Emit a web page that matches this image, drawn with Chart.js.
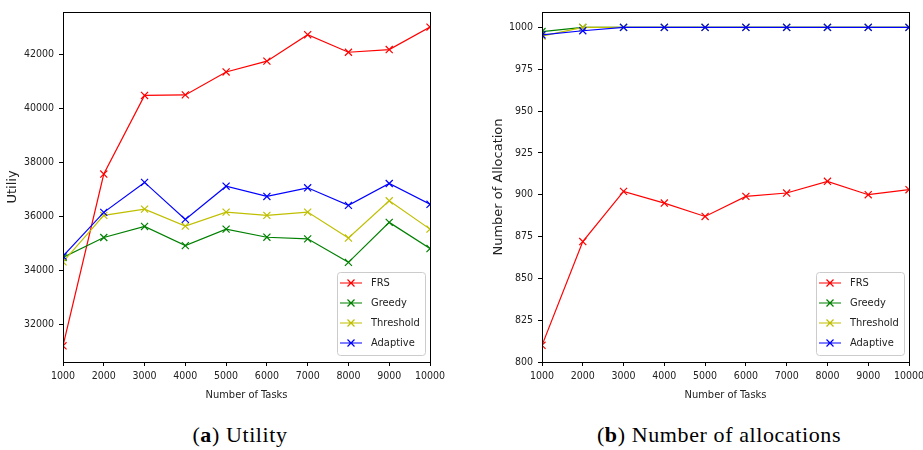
<!DOCTYPE html>
<html>
<head>
<meta charset="utf-8">
<script src="https://cdn.jsdelivr.net/npm/chart.js@4"></script>
<style>
  html, body { margin: 0; padding: 0; background: #fff; overflow: hidden; width: 923px; height: 450px; }
  .panel { position: absolute; top: 0; }
  .caption { position: absolute; top: 422px; font-family: "Liberation Serif", serif; font-size: 22px; letter-spacing: 0.6px; color: #000; white-space: nowrap; transform: translateX(-50%); }
</style>
</head>
<body>
<div class="panel" style="left:0"><canvas id="utility" width="460" height="410"></canvas></div>
<div class="panel" style="left:460px"><canvas id="alloc" width="490" height="410"></canvas></div>
<div class="caption" style="left:240px">(<b>a</b>) Utility</div>
<div class="caption" style="left:719px">(<b>b</b>) Number of allocations</div>
<script>
// values
const tasks = [1000, 2000, 3000, 4000, 5000, 6000, 7000, 8000, 9000, 10000];
const seriesNames = ["FRS", "Greedy", "Threshold", "Adaptive"];
const seriesColors = ["#ff0000", "#008000", "#bfbf00", "#0000ff"];

const utilFRS       = [31200, 37560, 40470, 40490, 41340, 41740, 42720, 42070, 42170, 43000];
const utilGreedy    = [34470, 35210, 35620, 34910, 35520, 35220, 35160, 34290, 35770, 34800];
const utilThreshold = [34310, 36030, 36260, 35630, 36150, 36030, 36150, 35190, 36570, 35520];
const utilAdaptive  = [34520, 36140, 37250, 35880, 37110, 36730, 37050, 36400, 37210, 36440];

const allocFRS       = [810, 872, 902, 895, 887, 899, 901, 908, 900, 903];
const allocGreedy    = [997.5, 1000, 1000, 1000, 1000, 1000, 1000, 1000, 1000, 1000];
const allocThreshold = [994.8, 1000, 1000, 1000, 1000, 1000, 1000, 1000, 1000, 1000];
const allocAdaptive  = [995.5, 998, 1000, 1000, 1000, 1000, 1000, 1000, 1000, 1000];

const taskTicks = tasks;
const utilTicks = [32000, 34000, 36000, 38000, 40000, 42000];
const allocTicks = [800, 825, 850, 875, 900, 925, 950, 975, 1000];

const tickFont = { family: "'DejaVu Sans Condensed', 'DejaVu Sans', sans-serif", size: 10.5 };

// box around the plot + matplotlib style legend in the lower right
const frameLegend = {
  id: "frameLegend",
  afterDatasetsDraw(chart) {
    const { ctx, chartArea: a } = chart;
    ctx.save();
    ctx.strokeStyle = "#000";
    ctx.lineWidth = 1;
    ctx.strokeRect(Math.round(a.left) + 0.5, Math.round(a.top) + 0.5,
      Math.round(a.right - a.left), Math.round(a.bottom - a.top));

    const w = 88, h = 83;
    const x0 = a.right - 5 - w, y0 = a.bottom - 7 - h;
    ctx.beginPath();
    ctx.roundRect(x0 + 0.5, y0 + 0.5, w, h, 3);
    ctx.fillStyle = "rgba(255,255,255,0.85)";
    ctx.fill();
    ctx.strokeStyle = "#cccccc";
    ctx.stroke();

    ctx.font = "11px 'DejaVu Sans Condensed', 'DejaVu Sans', sans-serif";
    ctx.textBaseline = "middle";
    chart.data.datasets.forEach((ds, i) => {
      const y = y0 + 11 + i * 20;
      ctx.strokeStyle = ds.borderColor;
      ctx.lineWidth = 1.2;
      ctx.beginPath();
      ctx.moveTo(x0 + 3, y);
      ctx.lineTo(x0 + 25, y);
      const cx = x0 + 14, r = 3.5;
      ctx.moveTo(cx - r, y - r); ctx.lineTo(cx + r, y + r);
      ctx.moveTo(cx - r, y + r); ctx.lineTo(cx + r, y - r);
      ctx.stroke();
      ctx.fillStyle = "#222";
      ctx.fillText(ds.label, x0 + 34, y + 0.5);
    });
    ctx.restore();
  }
};

function makeChart(id, values, yTicks, yMin, yMax, yTitle, yWidth, yTitlePad, padRight) {
  const datasets = values.map((vals, i) => ({
    label: seriesNames[i],
    data: tasks.map((t, j) => ({ x: t, y: vals[j] })),
    borderColor: seriesColors[i],
    backgroundColor: seriesColors[i],
    borderWidth: 1.2,
    pointStyle: "crossRot",
    pointRadius: 5,
    pointBorderWidth: 1.2,
    order: values.length - i,
    tension: 0
  }));

  return new Chart(document.getElementById(id), {
    type: "line",
    data: { datasets },
    plugins: [frameLegend],
    options: {
      responsive: false,
      animation: false,
      layout: { padding: { left: 0, top: 12, right: padRight, bottom: 0 } },
      plugins: { legend: { display: false }, tooltip: { enabled: false } },
      scales: {
        x: {
          type: "linear",
          min: 1000,
          max: 10000,
          afterBuildTicks: s => { s.ticks = taskTicks.map(v => ({ value: v })); },
          afterFit: s => { s.height = 48; },
          grid: { drawOnChartArea: false, drawTicks: true, tickLength: 4, color: "#000" },
          border: { display: false },
          ticks: { font: tickFont, color: "#222", padding: 4, maxRotation: 0, callback: v => String(v) },
          title: { display: true, text: "Number of Tasks", font: { family: "'DejaVu Sans Condensed', 'DejaVu Sans', sans-serif", size: 11 }, color: "#222", padding: { top: 0, bottom: 8 } }
        },
        y: {
          min: yMin,
          max: yMax,
          afterBuildTicks: s => { s.ticks = yTicks.map(v => ({ value: v })); },
          afterFit: s => { s.width = yWidth; },
          grid: { drawOnChartArea: false, drawTicks: true, tickLength: 4, color: "#000" },
          border: { display: false },
          ticks: { font: tickFont, color: "#222", padding: 5, callback: v => String(v) },
          title: { display: true, text: yTitle, font: { family: "'DejaVu Sans', sans-serif", size: 13 }, color: "#222", padding: { top: yTitlePad, bottom: 0 } }
        }
      }
    }
  });
}

makeChart("utility", [utilFRS, utilGreedy, utilThreshold, utilAdaptive],
  utilTicks, 30600, 43560, "Utiliy", 63, 5, 30);
makeChart("alloc", [allocFRS, allocGreedy, allocThreshold, allocAdaptive],
  allocTicks, 800, 1009.2, "Number of Allocation", 82, 31, 41);
</script>
</body>
</html>
